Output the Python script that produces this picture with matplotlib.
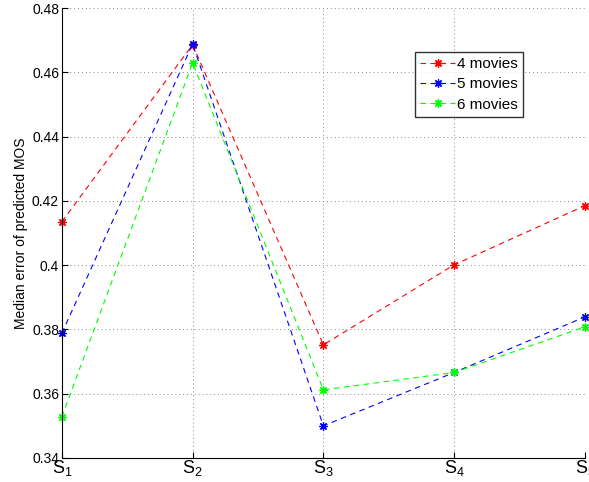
import matplotlib
matplotlib.use("Agg")
import matplotlib.pyplot as plt

plt.rcParams['font.family'] = ['Liberation Sans', 'DejaVu Sans']
plt.rcParams['mathtext.fontset'] = 'custom'
plt.rcParams['mathtext.rm'] = 'Liberation Sans'
plt.rcParams['mathtext.it'] = 'Liberation Sans'

# Data
categories = ['$\\mathrm{S_1}$', '$\\mathrm{S_2}$', '$\\mathrm{S_3}$', '$\\mathrm{S_4}$', '$\\mathrm{S_5}$']
movies4 = [0.4135, 0.4686, 0.3752, 0.4001, 0.4185]
movies5 = [0.3788, 0.4688, 0.3500, 0.3666, 0.3839]
movies6 = [0.3528, 0.4629, 0.3612, 0.3666, 0.3808]
series_labels = ['4 movies', '5 movies', '6 movies']
series_colors = ['#ff0000', '#0000ff', '#00ff00']
y_ticks = [0.34, 0.36, 0.38, 0.40, 0.42, 0.44, 0.46, 0.48]
y_tick_labels = ['0.34', '0.36', '0.38', '0.4', '0.42', '0.44', '0.46', '0.48']

fig = plt.figure(figsize=(5.89, 4.82), dpi=100)
ax = fig.add_axes([0.105, 0.0498, 0.888, 0.9336])

x = list(range(len(categories)))
for values, label, color in zip([movies4, movies5, movies6], series_labels, series_colors):
    ax.plot(x, values, linestyle=(0, (5, 4)), color=color, marker=(8, 2, 0), markersize=6,
            markeredgewidth=0.9, linewidth=0.8, label=label, clip_on=False)

ax.set_xlim(0, 4)
ax.set_ylim(0.34, 0.48)
ax.set_xticks(x)
ax.set_xticklabels(categories, fontsize=13)
ax.set_yticks(y_ticks)
ax.set_yticklabels(y_tick_labels, fontsize=10)
ax.set_ylabel('Median error of predicted MOS', fontsize=10, labelpad=3)

ax.grid(True, linestyle=(0, (1, 3)), color='#888888', linewidth=0.7)
ax.spines['top'].set_visible(False)
ax.spines['right'].set_visible(False)
ax.tick_params(direction='in', length=4, width=0.8, pad=2)
ax.tick_params(axis='x', pad=0)

leg = ax.legend(loc='upper left', bbox_to_anchor=(0.675, 0.903), fontsize=11,
                frameon=True, fancybox=False, edgecolor='black', handlelength=2.3,
                borderpad=0.35, labelspacing=0.42, handletextpad=0.1, borderaxespad=0)
leg.get_frame().set_linewidth(1.0)

fig.savefig('out.png', dpi=100)
